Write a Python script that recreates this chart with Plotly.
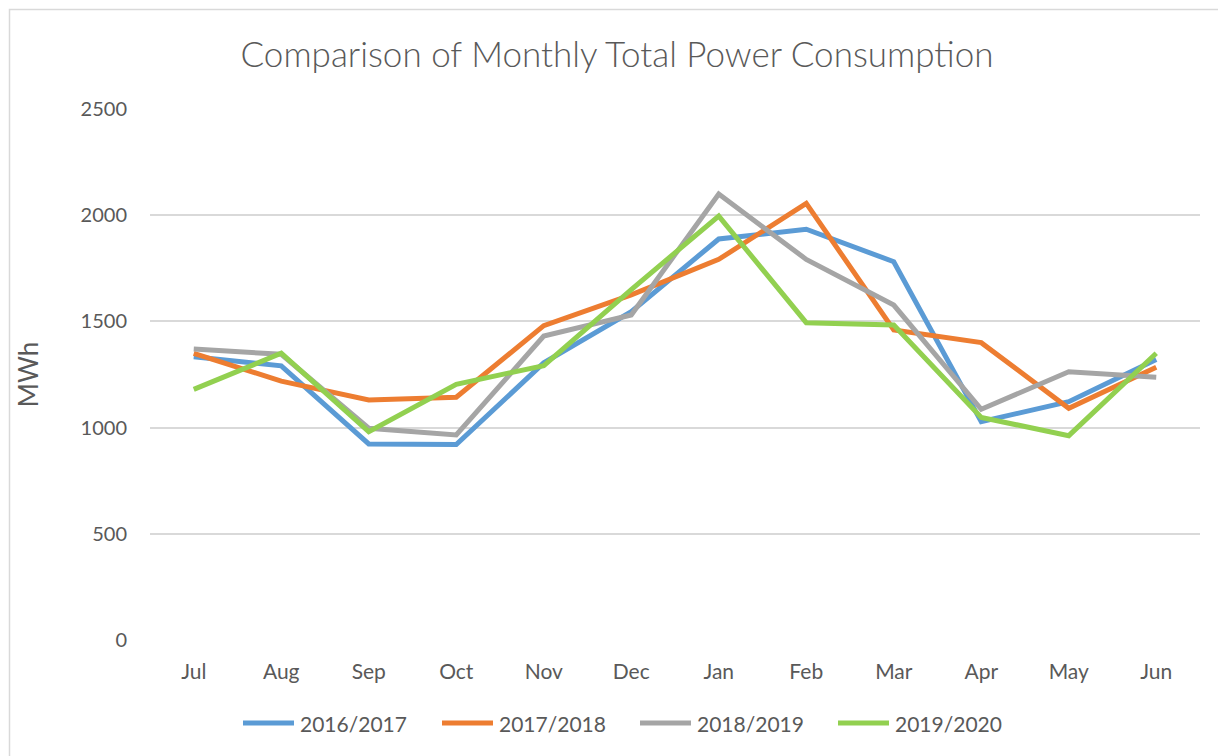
import plotly.graph_objects as go

months = ["Jul", "Aug", "Sep", "Oct", "Nov", "Dec", "Jan", "Feb", "Mar", "Apr", "May", "Jun"]
s2016_2017 = [1334, 1291, 923, 920, 1305, 1546, 1888, 1934, 1781, 1028, 1122, 1321]
s2017_2018 = [1350, 1219, 1130, 1143, 1480, 1625, 1792, 2056, 1460, 1400, 1091, 1284]
s2018_2019 = [1370, 1345, 997, 965, 1431, 1530, 2100, 1792, 1577, 1086, 1263, 1237]
s2019_2020 = [1180, 1350, 981, 1204, 1292, 1650, 1996, 1494, 1483, 1048, 962, 1350]
series_names = ["2016/2017", "2017/2018", "2018/2019", "2019/2020"]
colors = ["#5B9BD5", "#ED7D31", "#A5A5A5", "#92D050"]
y_ticks = [0, 500, 1000, 1500, 2000, 2500]

# page has an 8px body margin, so figure coords = screen coords - 8
OFF = 8
W, H = 1226 - OFF, 756 - OFF
L, R, T, B = 150 - OFF, 1200 - OFF, 109 - OFF, 640 - OFF
pw, ph = R - L, B - T


def px_x(x):
    return (x - OFF - L) / pw


def px_y(y):
    return (B - (y - OFF)) / ph


fig = go.Figure()
for name, vals, c in zip(series_names, [s2016_2017, s2017_2018, s2018_2019, s2019_2020], colors):
    fig.add_trace(go.Scatter(x=months, y=vals, name=name, mode="lines",
                             line=dict(color=c, width=5), showlegend=False))

txt = "#595959"
font = "Lato, 'Open Sans', sans-serif"

shapes = [dict(type="rect", xref="paper", yref="paper",
               x0=px_x(OFF + 1.5), x1=px_x(1260), y0=px_y(790), y1=px_y(9.5),
               line=dict(color="#D9D9D9", width=1.5), layer="below")]
annotations = []
leg_start = [241, 440, 638, 836]
leg_y = 723
for name, c, x0 in zip(series_names, colors, leg_start):
    shapes.append(dict(type="line", xref="paper", yref="paper",
                       x0=px_x(x0 + 2), x1=px_x(x0 + 53), y0=px_y(leg_y), y1=px_y(leg_y),
                       line=dict(color=c, width=5)))
    annotations.append(dict(text=name, xref="paper", yref="paper",
                            x=px_x(x0 + 57), y=px_y(leg_y), xanchor="left", yanchor="middle",
                            showarrow=False, font=dict(family=font, size=21, color=txt)))

fig.update_layout(
    width=W, height=H,
    margin=dict(l=L, r=W - R, t=T, b=H - B, pad=0),
    paper_bgcolor="white", plot_bgcolor="white",
    title=dict(text="Comparison of Monthly Total Power Consumption",
               x=0.5, xanchor="center", y=1 - (55 - OFF) / H, yanchor="middle",
               font=dict(family=font, size=35, color=txt, weight=300)),
    font=dict(family=font, color=txt),
    xaxis=dict(showgrid=False, showline=False, zeroline=False, ticks="",
               tickfont=dict(size=21, color=txt), ticklabelstandoff=17,
               range=[-0.5, 11.5]),
    yaxis=dict(range=[0, 2500], tickvals=y_ticks, showgrid=True,
               gridcolor="#D9D9D9", gridwidth=1.5, zeroline=False,
               showline=False, ticks="", tickfont=dict(size=20, color=txt),
               ticklabelstandoff=22,
               title=dict(text="MWh", font=dict(size=26, color=txt), standoff=34)),
    showlegend=False,
    shapes=shapes,
    annotations=annotations,
)

fig.write_html("out.html")
